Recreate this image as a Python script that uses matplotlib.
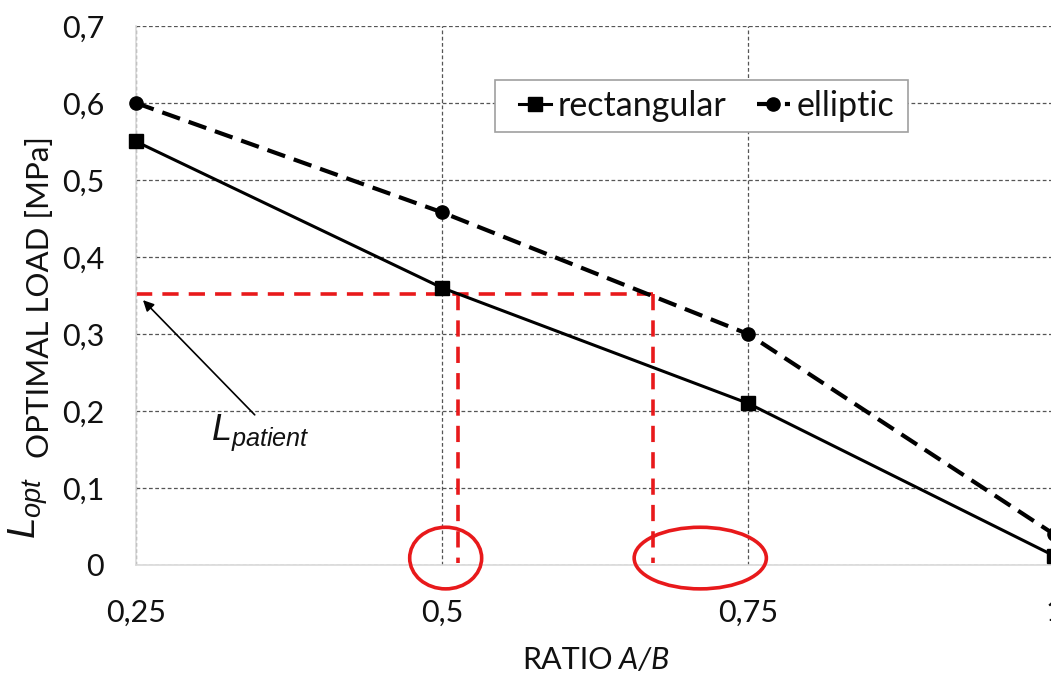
import matplotlib
matplotlib.use("Agg")
import matplotlib.pyplot as plt
from matplotlib.patches import Ellipse, Rectangle

ratio = [0.25, 0.5, 0.75, 1.0]
rectangular = [0.55, 0.36, 0.21, 0.012]
elliptic = [0.60, 0.458, 0.30, 0.04]
x_ticks = [0.25, 0.5, 0.75, 1.0]
x_tick_labels = ["0,25", "0,5", "0,75", "1"]
y_ticks = [0, 0.1, 0.2, 0.3, 0.4, 0.5, 0.6, 0.7]
y_tick_labels = ["0", "0,1", "0,2", "0,3", "0,4", "0,5", "0,6", "0,7"]
l_patient = 0.352
ratio_hits = [0.513, 0.672]

plt.rcParams['font.family'] = ['Lato', 'DejaVu Sans']
plt.rcParams['mathtext.fontset'] = 'custom'
plt.rcParams['mathtext.it'] = 'Liberation Sans:italic'
plt.rcParams['mathtext.rm'] = 'Liberation Sans'

W, H = 1051, 676
fig = plt.figure(figsize=(W / 100, H / 100), dpi=100)
left, right, top, bottom = 136, 1054, 26, 565
ax = fig.add_axes([left / W, 1 - bottom / H, (right - left) / W, (bottom - top) / H])
ax.set_xlim(0.25, 1.0)
ax.set_ylim(0, 0.7)

ax.grid(True, linestyle=(0, (3, 2)), color='#555555', linewidth=0.9)
ax.set_axisbelow(True)
for s in ['top', 'right']:
    ax.spines[s].set_visible(False)
for s in ['left', 'bottom']:
    ax.spines[s].set_color('#d9d9d9')
    ax.spines[s].set_linewidth(1.2)

ax.set_xticks(x_ticks)
ax.set_xticklabels(x_tick_labels)
ax.set_yticks(y_ticks)
ax.set_yticklabels(y_tick_labels)
ax.tick_params(axis='both', length=0, labelsize=22, labelcolor='#111111')
ax.tick_params(axis='x', pad=24)
ax.tick_params(axis='y', pad=23)

# red guide lines
red = '#e8191b'
ax.plot([0.25, ratio_hits[1]], [l_patient, l_patient], color=red, lw=2.6,
        linestyle=(0, (4.5, 2.8)), zorder=2)
for xh in ratio_hits:
    ax.plot([xh, xh], [l_patient, 0.003], color=red, lw=2.6,
            linestyle=(0, (4.5, 2.8)), zorder=2)

ax.plot(ratio, elliptic, color='black', lw=3, linestyle=(0, (4.5, 2.2)),
        marker='o', markersize=9.5, label='elliptic', clip_on=False, zorder=4)
ax.plot(ratio, rectangular, color='black', lw=2.2, linestyle='-',
        marker='s', markersize=10.5, label='rectangular', clip_on=False, zorder=4)

# ellipses
for (cx, cy, w, h) in [(0.503, 0.009, 0.0588, 0.08), (0.711, 0.009, 0.108, 0.08)]:
    e = Ellipse((cx, cy), w, h, fill=False, edgecolor=red, lw=2.6,
                clip_on=False, zorder=5)
    ax.add_patch(e)

# annotation
ax.annotate('', xy=(0.2557, 0.344), xytext=(0.347, 0.195),
            arrowprops=dict(arrowstyle='-|>', color='black', lw=1.2,
                            mutation_scale=16, shrinkA=0, shrinkB=0))
ax.text(0.311, 0.172, r'$L_{patient}$', fontsize=26, ha='left', va='center',
        color='#111111')

# legend with manually drawn frame
handles, labels = ax.get_legend_handles_labels()
leg = ax.legend(handles[::-1], labels[::-1], ncol=2, loc='center',
                bbox_to_anchor=(((500 + 913) / 2 - left) / (right - left),
                                1 - ((80 + 132) / 2 - top) / (bottom - top)),
                fontsize=24.5, frameon=False,
                handlelength=0.95, handletextpad=0.2, columnspacing=0.9,
                borderpad=0.2, borderaxespad=0)
for t in leg.get_texts():
    t.set_color('#111111')
leg.set_zorder(7)
ax.add_patch(Rectangle((495 / W, 1 - 132 / H), (908 - 495) / W, (132 - 80) / H,
                       transform=fig.transFigure, fill=True, facecolor='white',
                       edgecolor='#a0a0a0', lw=1.2, zorder=6, clip_on=False))

fig.text(613 / W, 1 - 660 / H, 'RATIO', ha='right', va='center',
         fontsize=22, color='#111111')
fig.text(619 / W, 1 - 660 / H, 'A/B', ha='left', va='center',
         fontsize=22, color='#111111', fontstyle='italic')
fig.text(28 / W, 1 - 508 / H, r'$L_{opt}$', rotation=90, ha='center', va='center',
         fontsize=28, color='#111111')
fig.text(40 / W, 1 - 297 / H, 'OPTIMAL LOAD [MPa]', rotation=90, ha='center',
         va='center', fontsize=22.5, color='#111111')

fig.savefig('out.png', dpi=100)
